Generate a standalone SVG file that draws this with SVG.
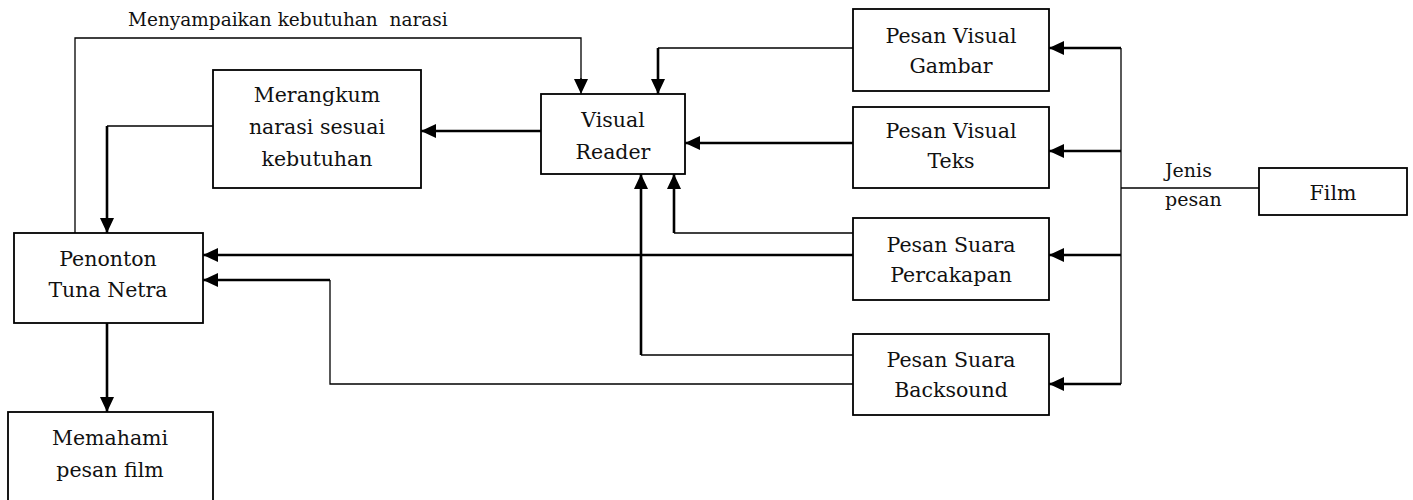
<svg xmlns="http://www.w3.org/2000/svg" width="1413" height="500" viewBox="0 0 1413 500">
<style>
.box{fill:#fff;stroke:#000;stroke-width:1.8}
.t{font-family:"DejaVu Serif","Liberation Serif",serif;font-size:20.5px;fill:#111;text-anchor:middle}
.lbl{font-family:"DejaVu Serif","Liberation Serif",serif;font-size:18.5px;fill:#111}
.thin{fill:none;stroke:#000;stroke-width:1.3}
.thick{fill:none;stroke:#000;stroke-width:2.6}
</style>
<defs>
<marker id="ah" markerUnits="userSpaceOnUse" markerWidth="16" markerHeight="14" refX="15" refY="7" orient="auto"><path d="M0,0 L15,7 L0,14 Z" fill="#000"/></marker>
</defs>
<rect width="1413" height="500" fill="#fff"/>
<g id="connectors">
<path class="thin" d="M75,233 V38 H581 V80"/>
<path class="thin" d="M581,78 V94" marker-end="url(#ah)"/>
<path class="thin" d="M213,126 H107"/>
<path class="thick" d="M107,126 V233" marker-end="url(#ah)"/>
<path class="thick" d="M107,323 V412" marker-end="url(#ah)"/>
<path class="thick" d="M541,131 H421" marker-end="url(#ah)"/>
<path class="thin" d="M853,48 H658"/>
<path class="thick" d="M658,48 V94" marker-end="url(#ah)"/>
<path class="thick" d="M853,143 H685" marker-end="url(#ah)"/>
<path class="thin" d="M853,233 H674"/>
<path class="thick" d="M674,233 V174" marker-end="url(#ah)"/>
<path class="thick" d="M853,255 H203" marker-end="url(#ah)"/>
<path class="thin" d="M853,355 H641"/>
<path class="thick" d="M641,355 V174" marker-end="url(#ah)"/>
<path class="thin" d="M853,384 H330 V280"/>
<path class="thick" d="M330,280 H203" marker-end="url(#ah)"/>
<path class="thin" d="M1121,48 V384"/>
<path class="thick" d="M1121,48 H1049" marker-end="url(#ah)"/>
<path class="thick" d="M1121,151 H1049" marker-end="url(#ah)"/>
<path class="thick" d="M1121,255 H1049" marker-end="url(#ah)"/>
<path class="thick" d="M1121,384 H1049" marker-end="url(#ah)"/>
<path class="thin" d="M1259,188 H1121"/>
<text class="lbl" x="128" y="26" xml:space="preserve">Menyampaikan kebutuhan  narasi</text>
<text class="lbl" x="1165" y="177" style="font-size:19px">Jenis</text>
<text class="lbl" x="1165" y="206" style="font-size:19px">pesan</text>
</g>
<g id="merangkum">
<rect class="box" x="213" y="70" width="208" height="118"/>
<text class="t" x="317" y="102">Merangkum</text>
<text class="t" x="317" y="134">narasi sesuai</text>
<text class="t" x="317" y="166">kebutuhan</text>
</g>
<g id="visual-reader">
<rect class="box" x="541" y="94" width="144" height="80"/>
<text class="t" x="613" y="127">Visual</text>
<text class="t" x="613" y="159">Reader</text>
</g>
<g id="pesan-gambar">
<rect class="box" x="853" y="9" width="196" height="82"/>
<text class="t" x="951" y="43">Pesan Visual</text>
<text class="t" x="951" y="73">Gambar</text>
</g>
<g id="pesan-teks">
<rect class="box" x="853" y="107" width="196" height="81"/>
<text class="t" x="951" y="138">Pesan Visual</text>
<text class="t" x="951" y="168">Teks</text>
</g>
<g id="pesan-percakapan">
<rect class="box" x="853" y="218" width="196" height="82"/>
<text class="t" x="951" y="252">Pesan Suara</text>
<text class="t" x="951" y="282">Percakapan</text>
</g>
<g id="pesan-backsound">
<rect class="box" x="853" y="334" width="196" height="81"/>
<text class="t" x="951" y="367">Pesan Suara</text>
<text class="t" x="951" y="397">Backsound</text>
</g>
<g id="film">
<rect class="box" x="1259" y="168" width="148" height="47"/>
<text class="t" x="1333" y="200">Film</text>
</g>
<g id="penonton">
<rect class="box" x="14" y="233" width="189" height="90"/>
<text class="t" x="108" y="266">Penonton</text>
<text class="t" x="108" y="297">Tuna Netra</text>
</g>
<g id="memahami">
<rect class="box" x="8" y="412" width="205" height="100"/>
<text class="t" x="110" y="445">Memahami</text>
<text class="t" x="110" y="477">pesan film</text>
</g>
</svg>
